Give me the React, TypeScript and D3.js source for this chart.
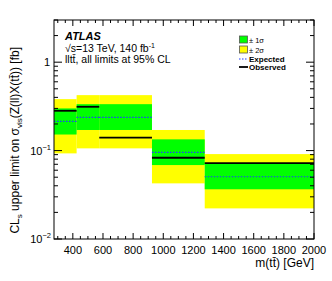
import React from 'react';
import * as d3 from 'd3';

// bin edges in m(tt) [GeV]
const binEdges = [275, 425, 575, 925, 1275, 2000];
// limits per bin [fb]
const expected = [0.214, 0.237, 0.237, 0.0955, 0.0506];
const observed = [0.282, 0.313, 0.14, 0.083, 0.0722];
const oneSigmaUp = [0.3, 0.335, 0.335, 0.134, 0.0717];
const oneSigmaDown = [0.152, 0.171, 0.171, 0.0686, 0.0365];
const twoSigmaUp = [0.382, 0.424, 0.424, 0.171, 0.0913];
const twoSigmaDown = [0.093, 0.106, 0.106, 0.0426, 0.0222];

const xMajorTicks = [400, 600, 800, 1000, 1200, 1400, 1600, 1800, 2000];

const W = 332;
const H = 281;
const margin = { top: 20, right: 18, bottom: 42, left: 54 };
const font = '"Liberation Sans", Arial, Helvetica, sans-serif';

const App = () => {
  const x = d3.scaleLinear().domain([275, 2000]).range([margin.left, W - margin.right]);
  const y = d3.scaleLog().domain([0.01, 3]).range([H - margin.bottom, margin.top]);

  const x0 = x.range()[0];
  const x1 = x.range()[1];
  const yb = y.range()[0];
  const yt = y.range()[1];

  const bins = d3.range(binEdges.length - 1);

  const xMinor = d3.range(300, 2001, 50).filter(v => v % 200 !== 0);
  const yMajor = [0.01, 0.1, 1];
  const yMinor: number[] = [];
  [0.01, 0.1, 1].forEach(d => {
    d3.range(2, 10).forEach(k => {
      const v = d * k;
      if (v <= 3) yMinor.push(v);
    });
  });

  return (
    <svg width={W} height={H} style={{ position: 'absolute', left: 0, top: 0, background: '#fff' }} fontFamily={font}>
      {/* 2 sigma band */}
      {bins.map(i => (
        <rect key={'y' + i} x={x(binEdges[i])} width={x(binEdges[i + 1]) - x(binEdges[i])}
          y={y(twoSigmaUp[i])} height={y(twoSigmaDown[i]) - y(twoSigmaUp[i])} fill="#ffff00" />
      ))}
      {/* 1 sigma band */}
      {bins.map(i => (
        <rect key={'g' + i} x={x(binEdges[i])} width={x(binEdges[i + 1]) - x(binEdges[i])}
          y={y(oneSigmaUp[i])} height={y(oneSigmaDown[i]) - y(oneSigmaUp[i])} fill="#00ff00" />
      ))}
      {/* expected */}
      {bins.map(i => (
        <line key={'e' + i} x1={x(binEdges[i])} x2={x(binEdges[i + 1])} y1={y(expected[i])} y2={y(expected[i])}
          stroke="#1f3fff" strokeWidth={1.2} strokeDasharray="1.5,1.5" />
      ))}
      {/* observed */}
      {bins.map(i => (
        <line key={'o' + i} x1={x(binEdges[i])} x2={x(binEdges[i + 1])} y1={y(observed[i])} y2={y(observed[i])}
          stroke="#000" strokeWidth={1.8} />
      ))}

      {/* frame */}
      <rect x={x0} y={yt} width={x1 - x0} height={yb - yt} fill="none" stroke="#000" strokeWidth={1} />

      {/* x ticks */}
      {xMajorTicks.map(v => (
        <g key={'xt' + v}>
          <line x1={x(v)} x2={x(v)} y1={yb} y2={yb - 6} stroke="#000" />
          <line x1={x(v)} x2={x(v)} y1={yt} y2={yt + 6} stroke="#000" />
          <text x={x(v)} y={yb + 15} fontSize={11} textAnchor="middle">{v}</text>
        </g>
      ))}
      {xMinor.map(v => (
        <g key={'xm' + v}>
          <line x1={x(v)} x2={x(v)} y1={yb} y2={yb - 3} stroke="#000" />
          <line x1={x(v)} x2={x(v)} y1={yt} y2={yt + 3} stroke="#000" />
        </g>
      ))}

      {/* y ticks */}
      {yMajor.map(v => (
        <g key={'yt' + v}>
          <line x1={x0} x2={x0 + 8} y1={y(v)} y2={y(v)} stroke="#000" />
          <line x1={x1} x2={x1 - 8} y1={y(v)} y2={y(v)} stroke="#000" />
        </g>
      ))}
      {yMinor.map(v => (
        <g key={'ym' + v}>
          <line x1={x0} x2={x0 + 4} y1={y(v)} y2={y(v)} stroke="#000" />
          <line x1={x1} x2={x1 - 4} y1={y(v)} y2={y(v)} stroke="#000" />
        </g>
      ))}
      <text x={x0 - 4} y={y(1) + 4} fontSize={11} textAnchor="end">1</text>
      <text x={x0 - 3} y={y(0.1) + 4} fontSize={11} textAnchor="end">
        10<tspan fontSize={7.5} dy={-5}>−1</tspan>
      </text>
      <text x={x0 - 3} y={y(0.01) + 4} fontSize={11} textAnchor="end">
        10<tspan fontSize={7.5} dy={-5}>−2</tspan>
      </text>

      {/* axis titles */}
      <text x={x1} y={H - 14} fontSize={12} textAnchor="end">m(tt̄) [GeV]</text>
      <text transform={`translate(19, ${yt + 27}) rotate(-90)`} fontSize={12} textAnchor="end">
        CL<tspan fontSize={8} dy={3}>s</tspan>
        <tspan dy={-3}> upper limit on σ</tspan>
        <tspan fontSize={8} dy={3}>vis</tspan>
        <tspan dy={-3}>(Z(ll)X(tt̄)) [fb]</tspan>
      </text>

      {/* labels */}
      <text x={65} y={40} fontSize={11} fontWeight="bold" fontStyle="italic">ATLAS</text>
      <text x={65} y={52} fontSize={10.5}>
        √s=13 TeV, 140 fb<tspan fontSize={7} dy={-4}>-1</tspan>
      </text>
      <text x={65} y={63} fontSize={10.5}>lltt̄, all limits at 95% CL</text>

      {/* legend */}
      <rect x={239.5} y={36} width={8} height={7} fill="#00ff00" stroke="#555" strokeWidth={0.8} />
      <text x={249} y={42.5} fontSize={7.5}>± 1σ</text>
      <rect x={239.5} y={46} width={8} height={7} fill="#ffff00" stroke="#555" strokeWidth={0.8} />
      <text x={249} y={52.5} fontSize={7.5}>± 2σ</text>
      <line x1={239} x2={248} y1={59} y2={59} stroke="#1f3fff" strokeWidth={1.2} strokeDasharray="1.5,1.5" />
      <text x={249} y={61.8} fontSize={8} fontWeight="bold">Expected</text>
      <line x1={239} x2={248} y1={67} y2={67} stroke="#000" strokeWidth={1.8} />
      <text x={249} y={70.4} fontSize={8} fontWeight="bold">Observed</text>
    </svg>
  );
};

export default App;
